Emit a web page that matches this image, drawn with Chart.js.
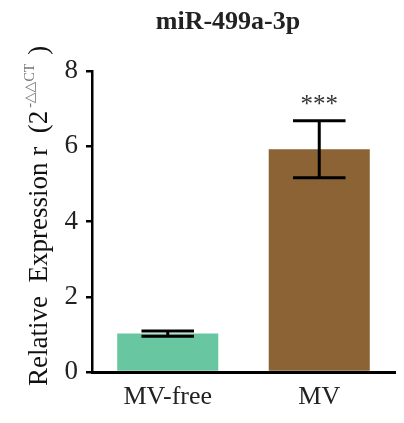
<!DOCTYPE html>
<html>
<head>
<meta charset="utf-8">
<script src="https://cdn.jsdelivr.net/npm/chart.js@4.4.1/dist/chart.umd.min.js"></script>
<style>
html,body{margin:0;padding:0;background:#fff;}
#wrap{width:404px;height:423px;}
</style>
</head>
<body>
<div id="wrap"><canvas id="c" width="404" height="423"></canvas></div>
<script>
// data
const categories = ["MV-free", "MV"];
const means = [1.02, 5.92];
const errors = [0.07, 0.76];
const signif = ["", "***"];
const barColors = ["#68c6a0", "#8b6334"];
const yTicks = [0, 2, 4, 6, 8];

const serif = "'Liberation Serif','DejaVu Serif',serif";

// error bars + stars
const errorBars = {
    id: "errorBars",
    afterDatasetsDraw(chart){
        const ctx = chart.ctx, y = chart.scales.y;
        const meta = chart.getDatasetMeta(0);
        ctx.save();
        ctx.strokeStyle = "#000";
        ctx.lineWidth = 3;
        meta.data.forEach((bar,i)=>{
            const top = y.getPixelForValue(means[i]+errors[i]);
            const bot = y.getPixelForValue(means[i]-errors[i]);
            const half = bar.width*0.26;
            ctx.beginPath();
            ctx.moveTo(bar.x, top); ctx.lineTo(bar.x, bot);
            ctx.moveTo(bar.x-half, top); ctx.lineTo(bar.x+half, top);
            ctx.moveTo(bar.x-half, bot); ctx.lineTo(bar.x+half, bot);
            ctx.stroke();
            if(signif[i]){
                ctx.fillStyle = "#333";
                ctx.font = "25px " + serif;
                ctx.textAlign = "center";
                ctx.textBaseline = "alphabetic";
                ctx.fillText(signif[i], bar.x, top-9);
            }
        });
        ctx.restore();
    }
};

// title + rotated y title with superscript
const texts = {
    id: "texts",
    afterDraw(chart){
        const ctx = chart.ctx;
        ctx.save();
        ctx.fillStyle = "#222";
        ctx.font = "bold 26px " + serif;
        ctx.textAlign = "center";
        ctx.textBaseline = "middle";
        ctx.fillText("miR-499a-3p", 228, 22);

        ctx.translate(40, 386);
        ctx.rotate(-Math.PI/2);
        ctx.textAlign = "left";
        ctx.textBaseline = "middle";
        ctx.fillStyle = "#111";
        ctx.font = "27px " + serif;
        let x = 0;
        const main = "Relative  Expression r  (2";
        ctx.fillText(main, x, 0);
        x += ctx.measureText(main).width + 3;
        ctx.font = "14px " + serif;
        ctx.fillStyle = "#777";
        const sup = "-\u25B3\u25B3CT";
        ctx.fillText(sup, x, -10);
        x += ctx.measureText(sup).width + 9;
        ctx.font = "27px " + serif;
        ctx.fillStyle = "#111";
        ctx.fillText(")", x, 0);
        ctx.restore();
    }
};

new Chart(document.getElementById("c"), {
    type: "bar",
    data: {
        labels: categories,
        datasets: [{
            data: means,
            backgroundColor: barColors,
            barPercentage: 0.667,
            categoryPercentage: 1
        }]
    },
    options: {
        responsive: false,
        animation: false,
        layout: { padding: { top: 71, right: 9, left: 0, bottom: 0 } },
        plugins: { legend: { display: false }, tooltip: { enabled: false } },
        scales: {
            x: {
                grid: { display: false },
                border: { display: true, color: "#000", width: 3 },
                ticks: { color: "#222", font: { family: serif, size: 26 }, padding: 2 },
                afterFit(s){ s.height = 51; }
            },
            y: {
                min: 0, max: 8,
                afterBuildTicks(s){ s.ticks = yTicks.map(v=>({value:v})); },
                grid: { drawOnChartArea: false, drawTicks: true, tickLength: 6, color: "#000", lineWidth: 2.5 },
                border: { display: true, color: "#000", width: 2.5 },
                ticks: { color: "#222", font: { family: serif, size: 27 }, padding: 8 },
                afterFit(s){ s.width = 92; }
            }
        }
    },
    plugins: [errorBars, texts]
});
</script>
</body>
</html>
